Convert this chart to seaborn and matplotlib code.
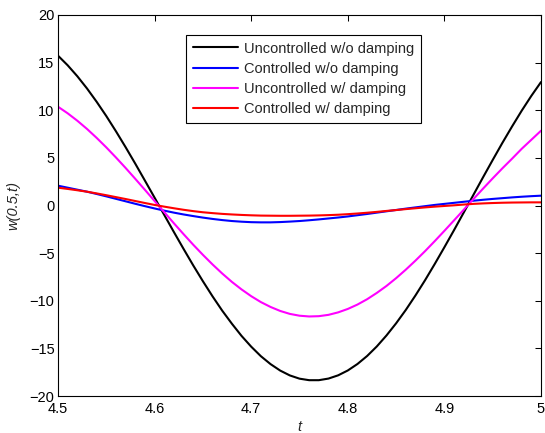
import numpy as np
import pandas as pd
import matplotlib
matplotlib.use("Agg")
import matplotlib.pyplot as plt
import seaborn as sns

# ---- data ----
t = [4.50, 4.51, 4.52, 4.53, 4.54, 4.55, 4.56, 4.57, 4.58, 4.59,
     4.60, 4.61, 4.62, 4.63, 4.64, 4.65, 4.66, 4.67, 4.68, 4.69,
     4.70, 4.71, 4.72, 4.73, 4.74, 4.75, 4.76, 4.77, 4.78, 4.79,
     4.80, 4.81, 4.82, 4.83, 4.84, 4.85, 4.86, 4.87, 4.88, 4.89,
     4.90, 4.91, 4.92, 4.93, 4.94, 4.95, 4.96, 4.97, 4.98, 4.99, 5.00]

uncontrolled_wo = [15.73, 14.72, 13.57, 12.29, 10.89, 9.39, 7.79, 6.12, 4.39, 2.61,
                   0.82, -0.99, -2.79, -4.56, -6.29, -7.95, -9.54, -11.04, -12.41, -13.69,
                   -14.82, -15.82, -16.65, -17.33, -17.84, -18.18, -18.34, -18.34, -18.17, -17.83,
                   -17.32, -16.64, -15.80, -14.80, -13.65, -12.37, -10.97, -9.45, -7.84, -6.14,
                   -4.38, -2.58, -0.74, 1.11, 2.96, 4.78, 6.57, 8.29, 9.95, 11.51, 12.96]

controlled_wo = [2.08, 1.87, 1.66, 1.45, 1.21, 0.96, 0.70, 0.44, 0.18, -0.07,
                 -0.31, -0.54, -0.75, -0.94, -1.11, -1.27, -1.41, -1.53, -1.63, -1.70,
                 -1.75, -1.77, -1.77, -1.74, -1.69, -1.63, -1.55, -1.46, -1.36, -1.26,
                 -1.15, -1.02, -0.89, -0.75, -0.61, -0.47, -0.33, -0.20, -0.07, 0.06,
                 0.17, 0.28, 0.39, 0.50, 0.60, 0.69, 0.77, 0.85, 0.92, 0.98, 1.03]

uncontrolled_w = [10.37, 9.68, 8.90, 8.04, 7.10, 6.10, 5.04, 3.94, 2.80, 1.64,
                  0.47, -0.70, -1.87, -3.01, -4.12, -5.18, -6.19, -7.14, -8.02, -8.81,
                  -9.52, -10.14, -10.65, -11.07, -11.38, -11.57, -11.65, -11.62, -11.48, -11.22,
                  -10.86, -10.40, -9.84, -9.18, -8.45, -7.63, -6.74, -5.79, -4.79, -3.74,
                  -2.66, -1.56, -0.45, 0.67, 1.77, 2.85, 3.90, 4.91, 5.95, 6.90, 7.85]

controlled_w = [1.87, 1.74, 1.60, 1.45, 1.27, 1.08, 0.88, 0.68, 0.47, 0.26,
                0.06, -0.12, -0.29, -0.45, -0.59, -0.71, -0.80, -0.88, -0.94, -0.99,
                -1.03, -1.06, -1.07, -1.08, -1.08, -1.07, -1.06, -1.04, -1.01, -0.97,
                -0.91, -0.84, -0.76, -0.67, -0.57, -0.48, -0.38, -0.29, -0.20, -0.12,
                -0.05, 0.02, 0.10, 0.17, 0.22, 0.26, 0.29, 0.31, 0.32, 0.33, 0.33]

series_names = ["Uncontrolled w/o damping", "Controlled w/o damping",
                "Uncontrolled w/ damping", "Controlled w/ damping"]
series_values = [uncontrolled_wo, controlled_wo, uncontrolled_w, controlled_w]
series_colors = ["#000000", "#0000FF", "#FF00FF", "#FF0000"]

xticks = [4.5, 4.6, 4.7, 4.8, 4.9, 5.0]
xticklabels = ["4.5", "4.6", "4.7", "4.8", "4.9", "5"]
yticks = [-20, -15, -10, -5, 0, 5, 10, 15, 20]

# ---- build long-form table ----
df = pd.concat(
    [pd.DataFrame({"t": t, "w": v, "series": n}) for n, v in zip(series_names, series_values)],
    ignore_index=True,
)

sns.set_style("white")
plt.rcParams["font.family"] = ["Liberation Sans", "DejaVu Sans"]
plt.rcParams["font.size"] = 10.5

fig = plt.figure(figsize=(5.45, 4.33), dpi=100)
ax = fig.add_axes([58 / 545, 37 / 433, 483 / 545, 381 / 433])

sns.lineplot(data=df, x="t", y="w", hue="series", hue_order=series_names,
             palette=dict(zip(series_names, series_colors)),
             estimator=None, sort=False, linewidth=1.5, ax=ax)

ax.set_xlim(4.5, 5.0)
ax.set_ylim(-20, 20)
ax.set_xticks(xticks)
ax.set_xticklabels(xticklabels)
ax.set_yticks(yticks)
ax.tick_params(direction="in", top=True, right=True, length=4, width=0.75,
               labelsize=10.5, colors="black")
ax.tick_params(axis="x", pad=4.5)
ax.tick_params(axis="y", pad=2.5)
for s in ax.spines.values():
    s.set_visible(True)
    s.set_color("black")
    s.set_linewidth(0.8)

ax.set_xlabel("t", fontstyle="italic", fontsize=10.5)
ax.set_ylabel("w(0.5,t)", fontstyle="italic", fontsize=10.5)
ax.xaxis.set_label_coords(0.5, -0.064)
ax.yaxis.set_label_coords(-0.078, 0.5)

leg = ax.legend(loc="upper left", bbox_to_anchor=(0.265, 0.9475), borderaxespad=0,
                fancybox=False, frameon=True, edgecolor="black", framealpha=1,
                fontsize=10.5, handlelength=3.1, handletextpad=0.45,
                labelspacing=0.42, borderpad=0.45, title=None)
leg.get_frame().set_linewidth(0.8)

fig.savefig("out.png", dpi=100, facecolor="white")
